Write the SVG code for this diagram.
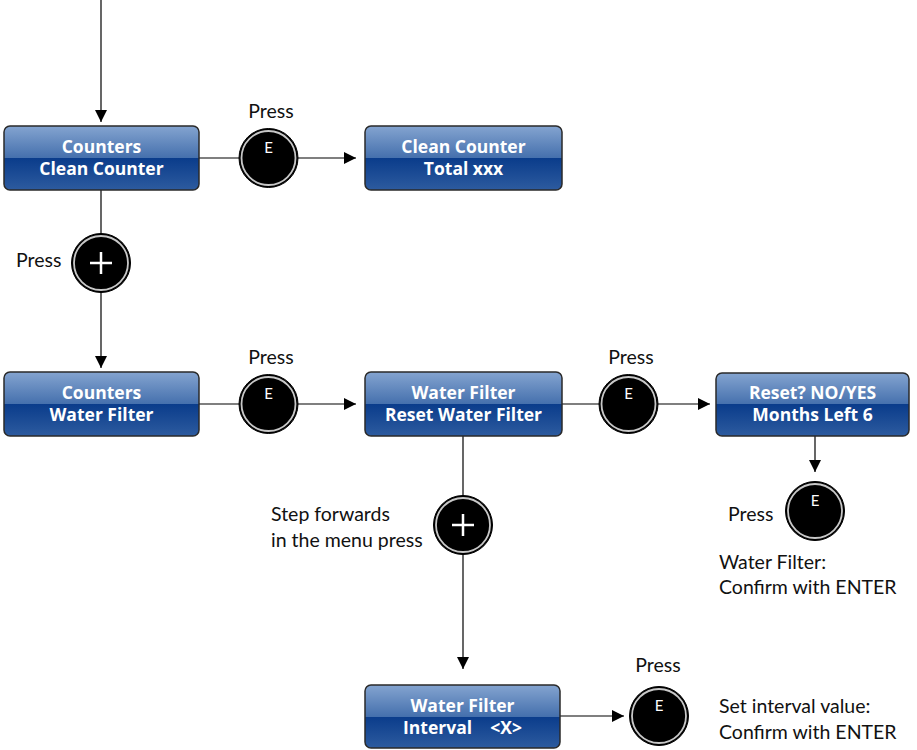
<svg xmlns="http://www.w3.org/2000/svg" width="917" height="750" viewBox="0 0 917 750">
<defs>
<linearGradient id="boxg" x1="0" y1="0" x2="0" y2="1">
<stop offset="0" stop-color="#84a4d0"/>
<stop offset="0.5" stop-color="#4570ad"/>
<stop offset="0.5" stop-color="#0a3c8b"/>
<stop offset="1" stop-color="#2d5b9f"/>
</linearGradient>
<marker id="arr" viewBox="0 0 10 10" refX="10" refY="5" markerWidth="12" markerHeight="12" markerUnits="userSpaceOnUse" orient="auto">
<path d="M0,0 L10,5 L0,10 z" fill="#000"/>
</marker>
</defs>
<style>
.box{fill:url(#boxg);stroke:#2a2a2a;stroke-width:1.5}
.bt{font-family:"Open Sans","Liberation Sans",sans-serif;font-weight:bold;font-size:17.5px;fill:#fff;text-anchor:middle}
.lbl{font-family:Lato,"Liberation Sans",sans-serif;font-size:19.5px;fill:#111}
.c1{fill:#000;stroke:#000;stroke-width:1}
.c2{fill:#000;stroke:#c8c8c8;stroke-width:1.8}
.et{font-family:Lato,"Liberation Sans",sans-serif;font-size:15px;fill:#fff;text-anchor:middle}
.pl{stroke:#fff;stroke-width:2.5;fill:none}
.ln{stroke:#000;stroke-width:1.2;fill:none}
</style>
<g id="connectors">
<line class="ln" x1="101" y1="0" x2="101" y2="122" marker-end="url(#arr)"/>
<line class="ln" x1="199" y1="158" x2="239" y2="158"/>
<line class="ln" x1="298" y1="158" x2="356" y2="158" marker-end="url(#arr)"/>
<line class="ln" x1="101" y1="190" x2="101" y2="368" marker-end="url(#arr)"/>
<line class="ln" x1="199" y1="404" x2="239" y2="404"/>
<line class="ln" x1="298" y1="404" x2="356" y2="404" marker-end="url(#arr)"/>
<line class="ln" x1="562" y1="404" x2="599" y2="404"/>
<line class="ln" x1="658" y1="404" x2="710" y2="404" marker-end="url(#arr)"/>
<line class="ln" x1="815" y1="436" x2="815" y2="472" marker-end="url(#arr)"/>
<line class="ln" x1="463" y1="436" x2="463" y2="669" marker-end="url(#arr)"/>
<line class="ln" x1="560" y1="716" x2="624" y2="716" marker-end="url(#arr)"/>
</g>
<g id="box-counters-clean">
<rect class="box" x="4" y="126" width="195" height="64" rx="6"/>
<text class="bt" x="101.5" y="153">Counters</text>
<text class="bt" x="101.5" y="175">Clean Counter</text>
</g>
<g id="box-clean-total">
<rect class="box" x="365" y="126" width="197" height="64" rx="6"/>
<text class="bt" x="463.5" y="153">Clean Counter</text>
<text class="bt" x="463.5" y="175">Total xxx</text>
</g>
<g id="box-counters-water">
<rect class="box" x="4" y="372" width="195" height="64" rx="6"/>
<text class="bt" x="101.5" y="399">Counters</text>
<text class="bt" x="101.5" y="421">Water Filter</text>
</g>
<g id="box-water-reset">
<rect class="box" x="365" y="372" width="197" height="64" rx="6"/>
<text class="bt" x="463.5" y="399">Water Filter</text>
<text class="bt" x="463.5" y="421">Reset Water Filter</text>
</g>
<g id="box-reset-yes">
<rect class="box" x="716" y="373" width="193" height="63" rx="6"/>
<text class="bt" x="812.5" y="399">Reset? NO/YES</text>
<text class="bt" x="812.5" y="421">Months Left 6</text>
</g>
<g id="box-interval">
<rect class="box" x="365" y="685" width="195" height="63" rx="6"/>
<text class="bt" x="462.5" y="712">Water Filter</text>
<text class="bt" x="462.5" y="734" xml:space="preserve">Interval    &lt;X&gt;</text>
</g>
<g id="btn-e1">
<circle class="c1" cx="268.5" cy="158" r="29.5"/>
<circle class="c2" cx="268.5" cy="158" r="27"/>
<text class="et" x="268.5" y="153">E</text>
<text class="lbl" x="271" y="118" text-anchor="middle">Press</text>
</g>
<g id="btn-plus1">
<circle class="c1" cx="101" cy="263" r="29.5"/>
<circle class="c2" cx="101" cy="263" r="27"/>
<path class="pl" d="M90,263 H112 M101,252 V274"/>
<text class="lbl" x="16" y="267">Press</text>
</g>
<g id="btn-e2">
<circle class="c1" cx="268.5" cy="404" r="29.5"/>
<circle class="c2" cx="268.5" cy="404" r="27"/>
<text class="et" x="268.5" y="399">E</text>
<text class="lbl" x="271" y="364" text-anchor="middle">Press</text>
</g>
<g id="btn-e3">
<circle class="c1" cx="628.5" cy="404" r="29.5"/>
<circle class="c2" cx="628.5" cy="404" r="27"/>
<text class="et" x="628.5" y="399">E</text>
<text class="lbl" x="631" y="364" text-anchor="middle">Press</text>
</g>
<g id="btn-e4">
<circle class="c1" cx="815" cy="511" r="29.5"/>
<circle class="c2" cx="815" cy="511" r="27"/>
<text class="et" x="815" y="506">E</text>
<text class="lbl" x="728" y="521">Press</text>
<text class="lbl" x="719" y="569">Water Filter:</text>
<text class="lbl" x="719" y="594">Confirm with ENTER</text>
</g>
<g id="btn-plus2">
<circle class="c1" cx="463" cy="525" r="29.5"/>
<circle class="c2" cx="463" cy="525" r="27"/>
<path class="pl" d="M452,525 H474 M463,514 V536"/>
<text class="lbl" x="271" y="521">Step forwards</text>
<text class="lbl" x="271" y="547">in the menu press</text>
</g>
<g id="btn-e5">
<circle class="c1" cx="659" cy="716" r="29.5"/>
<circle class="c2" cx="659" cy="716" r="27"/>
<text class="et" x="659" y="711">E</text>
<text class="lbl" x="658" y="672" text-anchor="middle">Press</text>
<text class="lbl" x="719" y="713">Set interval value:</text>
<text class="lbl" x="719" y="739">Confirm with ENTER</text>
</g>
</svg>
